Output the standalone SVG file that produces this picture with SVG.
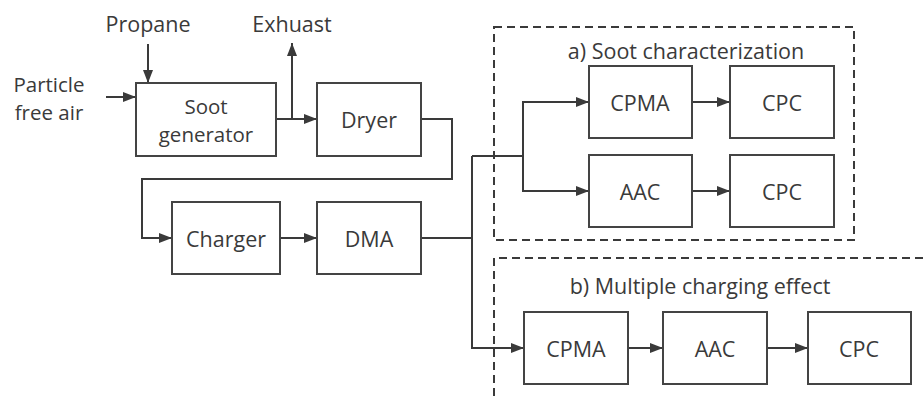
<svg xmlns="http://www.w3.org/2000/svg" width="923" height="401" viewBox="0 0 923 401">
<defs>
<marker id="ah" viewBox="0 0 10 10" refX="10" refY="5" markerWidth="6.5" markerHeight="5" orient="auto" markerUnits="strokeWidth" preserveAspectRatio="none">
<path d="M0,0 L10,5 L0,10 Z" fill="#3a3a3a"/>
</marker>
</defs>
<style>
.box{fill:#fff;stroke:#444;stroke-width:2}
.t{font-family:"Open Sans","Noto Sans","Liberation Sans",sans-serif;font-size:21.5px;fill:#3a3a3a;text-anchor:middle;dominant-baseline:central}
.s{font-size:20.5px}
.c{fill:none;stroke:#3a3a3a;stroke-width:2}
.a{marker-end:url(#ah)}
.d{fill:none;stroke:#3a3a3a;stroke-width:2;stroke-dasharray:8,5}
</style>
<rect width="923" height="401" fill="#fff"/>
<g id="groups">
<rect id="group-a" class="d" x="494" y="27" width="360" height="213"/>
<path id="group-b" class="d" d="M923,258 H494 V401"/>
<text class="t" x="686" y="50">a) Soot characterization</text>
<text class="t" x="700" y="285">b) Multiple charging effect</text>
</g>
<g id="connectors">
<path class="c a" d="M106,97 H136"/>
<path class="c a" d="M148,44 V83"/>
<path class="c a" d="M276,119 H317"/>
<path class="c a" d="M292,119 V43"/>
<path class="c a" d="M421,119 H452 V179 H142 V238 H172"/>
<path class="c a" d="M280,238 H317"/>
<path class="c" d="M421,238 H472"/>
<path class="c a" d="M472,156 V348 H524"/>
<path class="c a" d="M472,156 H523 V102 H589"/>
<path class="c a" d="M523,156 V191 H589"/>
<path class="c a" d="M692,102 H730"/>
<path class="c a" d="M692,191 H730"/>
<path class="c a" d="M628,348 H663"/>
<path class="c a" d="M767,348 H808"/>
</g>
<g id="labels">
<text class="t" x="148" y="23">Propane</text>
<text class="t" x="292" y="23">Exhuast</text>
<text class="t s" x="49" y="84">Particle</text>
<text class="t s" x="49" y="112">free air</text>
</g>
<g id="soot-generator"><rect class="box" x="136" y="83" width="140" height="73"/><text class="t s" x="206" y="105.5">Soot</text><text class="t s" x="206" y="134">generator</text></g>
<g id="dryer"><rect class="box" x="317" y="83" width="104" height="73"/><text class="t" x="369" y="119">Dryer</text></g>
<g id="charger"><rect class="box" x="172" y="202" width="108" height="72"/><text class="t" x="226" y="238">Charger</text></g>
<g id="dma"><rect class="box" x="317" y="202" width="104" height="72"/><text class="t" x="369" y="238">DMA</text></g>
<g id="cpma-a"><rect class="box" x="589" y="66" width="103" height="72"/><text class="t" x="640" y="102">CPMA</text></g>
<g id="cpc-a1"><rect class="box" x="730" y="66" width="104" height="72"/><text class="t" x="782" y="102">CPC</text></g>
<g id="aac-a"><rect class="box" x="589" y="155" width="103" height="72"/><text class="t" x="640" y="191">AAC</text></g>
<g id="cpc-a2"><rect class="box" x="730" y="155" width="104" height="72"/><text class="t" x="782" y="191">CPC</text></g>
<g id="cpma-b"><rect class="box" x="524" y="312" width="104" height="72"/><text class="t" x="576" y="348">CPMA</text></g>
<g id="aac-b"><rect class="box" x="663" y="312" width="104" height="72"/><text class="t" x="715" y="348">AAC</text></g>
<g id="cpc-b"><rect class="box" x="808" y="312" width="103" height="72"/><text class="t" x="859" y="348">CPC</text></g>
</svg>
